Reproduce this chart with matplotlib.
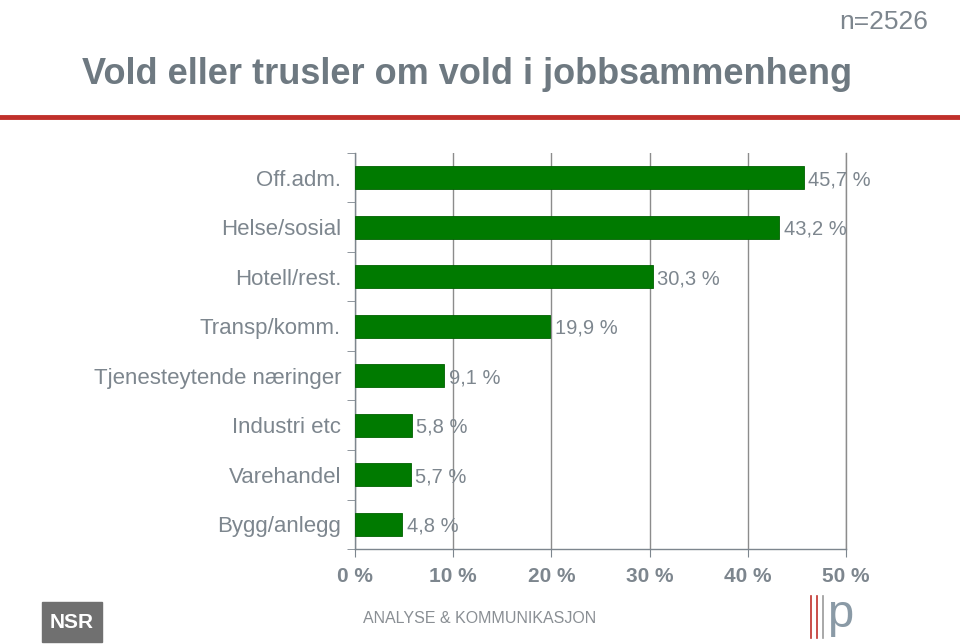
import matplotlib.pyplot as plt
from matplotlib.patches import Rectangle

plt.rcParams['font.family'] = ['Liberation Sans', 'DejaVu Sans']

categories = ['Off.adm.', 'Helse/sosial', 'Hotell/rest.', 'Transp/komm.',
              'Tjenesteytende næringer', 'Industri etc', 'Varehandel', 'Bygg/anlegg']
values = [45.7, 43.2, 30.3, 19.9, 9.1, 5.8, 5.7, 4.8]
xticks = [0, 10, 20, 30, 40, 50]

GRAY = '#7d868e'
GREEN = '#007a00'

fig = plt.figure(figsize=(9.6, 6.44), dpi=100)

# title area
fig.text(0.967, 0.985, 'n=2526', ha='right', va='top', fontsize=19, color=GRAY)
fig.text(0.085, 0.884, 'Vold eller trusler om vold i jobbsammenheng', ha='left',
         va='center', fontsize=26, fontweight='bold', color='#6e7981')
fig.add_artist(plt.Line2D([0, 1], [0.818, 0.818], transform=fig.transFigure,
                          color='#c0302b', lw=3.5))

ax = fig.add_axes([0.3698, 0.1475, 0.5115, 0.615])
y = list(range(len(categories)))
ax.barh(y, values, height=0.46, color=GREEN, edgecolor='#006000', lw=0.6, zorder=3)
for yi, v in zip(y, values):
    ax.text(v + 0.45, yi + 0.04, f'{v:.1f} %'.replace('.', ','), va='center', ha='left',
            fontsize=14.5, color=GRAY, zorder=4)

ax.set_xlim(0, 50)
ax.set_ylim(len(categories) - 0.5, -0.5)
ax.set_xticks(xticks)
ax.set_xticklabels([f'{t} %' for t in xticks], fontsize=15, fontweight='bold', color=GRAY)
ax.set_yticks(y)
ax.set_yticklabels(categories, fontsize=16, color=GRAY)
ax.set_yticks([i + 0.5 for i in range(-1, len(categories))], minor=True)
ax.tick_params(axis='y', which='major', length=0, pad=10)
ax.tick_params(axis='y', which='minor', length=6, color=GRAY, direction='out')
ax.tick_params(axis='x', length=6, color=GRAY, pad=7, direction='out')
ax.grid(axis='x', color='#8c8c8c', lw=1, zorder=0)
ax.axvline(50, color='#8c8c8c', lw=1, zorder=0, clip_on=False)
for s in ['top', 'right']:
    ax.spines[s].set_visible(False)
for s in ['left', 'bottom']:
    ax.spines[s].set_color(GRAY)
    ax.spines[s].set_linewidth(1)

# footer
fig.add_artist(Rectangle((0.044, 0.003), 0.062, 0.062, transform=fig.transFigure,
                         color='#707070'))
fig.text(0.075, 0.034, 'NSR', ha='center', va='center', fontsize=15,
         fontweight='bold', color='white')
fig.text(0.5, 0.04, 'ANALYSE & KOMMUNIKASJON', ha='center', va='center',
         fontsize=11.5, color='#8a8f94')
for i, xx in enumerate([0.845, 0.851, 0.857]):
    fig.add_artist(plt.Line2D([xx, xx], [0.01, 0.075], transform=fig.transFigure,
                              color=['#c0302b', '#c0302b', '#9a9a9a'][i], lw=1.2))
fig.text(0.875, 0.045, 'p', ha='center', va='center', fontsize=34, color='#8a9aa6')

fig.savefig('out.png', dpi=100)
